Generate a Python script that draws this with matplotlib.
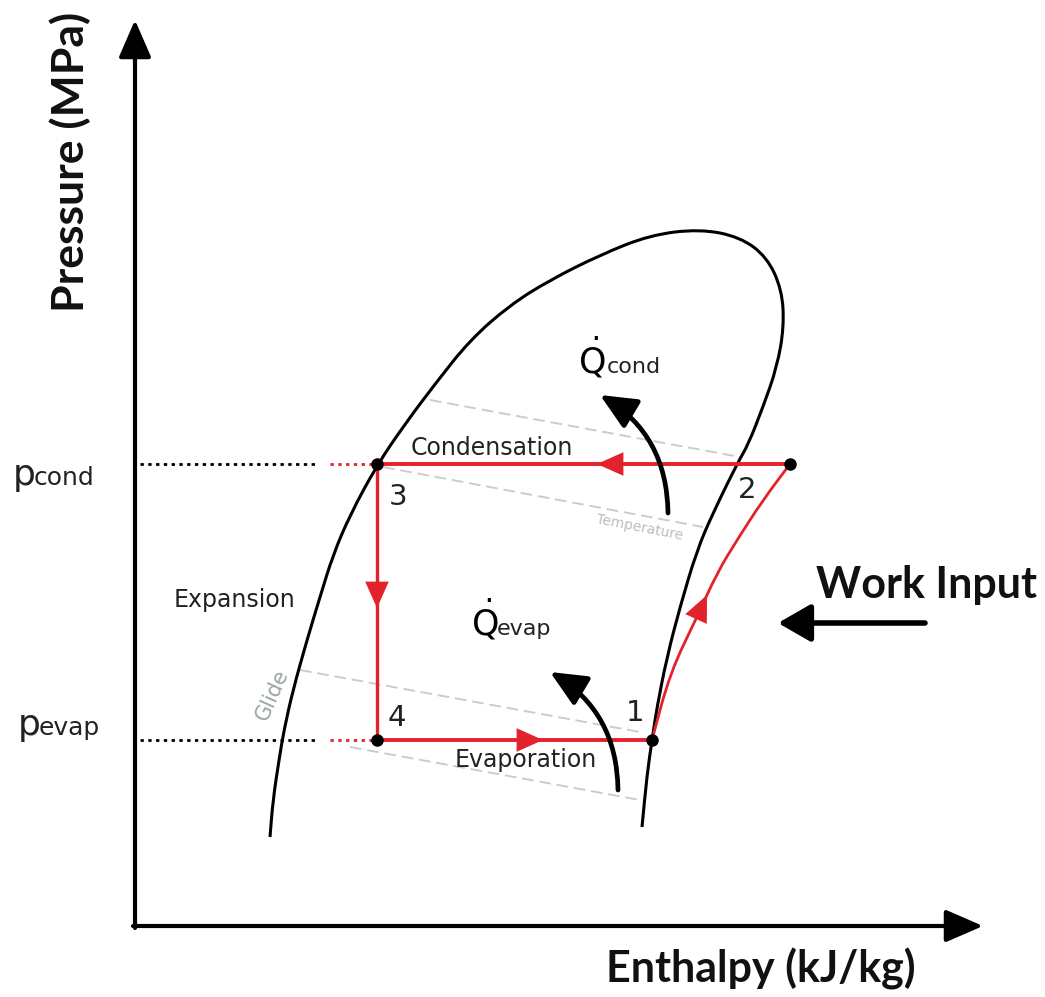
import numpy as np
import matplotlib.pyplot as plt
from matplotlib.patches import FancyArrowPatch, PathPatch
from matplotlib.path import Path

plt.rcParams['mathtext.default'] = 'regular'

# schematic p-h diagram, enthalpy and pressure measured from the axis origin
dome_h = [135, 138, 144, 149, 158, 172, 185, 198, 215, 242, 270, 300, 335, 375, 415,
          465, 515, 565, 605, 632, 647, 649, 642, 628, 613, 603, 578, 562, 545, 532,
          522, 517, 512, 507]
dome_p = [89, 126, 166, 196, 236, 286, 329, 371, 411, 461, 502, 542, 586, 621, 646,
          671, 691, 697, 689, 669, 636, 599, 559, 519, 481, 464, 413, 376, 319, 269,
          219, 186, 151, 99]

# cycle state points
state_names = ['1', '2', '3', '4']
state_h = [517, 655, 242, 242]
state_p = [186, 462, 462, 186]

# compression 1 -> 2
comp_h = [517, 535, 562, 582, 602, 628, 655]
comp_p = [186, 253, 309, 353, 386, 426, 462]

# faint isotherms (temperature glide)
iso_h = [[295, 605], [248, 568], [165, 505], [215, 505]]
iso_p = [[526, 469], [459, 399], [256, 194], [179, 126]]

p_cond = 462
p_evap = 186
guide_split = 180   # where the black guide line turns red

RED = '#e3232c'


def smooth_path(hs, ps):
    # quadratic bezier through midpoints, read points act as control points
    pts = np.column_stack([hs, ps]).astype(float)
    verts = [pts[0], (pts[0] + pts[1]) / 2]
    codes = [Path.MOVETO, Path.LINETO]
    for i in range(1, len(pts) - 1):
        verts += [pts[i], (pts[i] + pts[i + 1]) / 2]
        codes += [Path.CURVE3, Path.CURVE3]
    verts.append(pts[-1])
    codes.append(Path.LINETO)
    return Path(verts, codes)


fig = plt.figure(figsize=(10.45, 9.97), dpi=100)
ax = fig.add_axes([0, 0, 1, 1])
ax.set_xlim(-135, 910)
ax.set_ylim(-71, 926)
ax.axis('off')

# axes with arrows
ax.annotate('', xy=(0, 906), xytext=(0, -2),
            arrowprops=dict(arrowstyle='-|>,head_length=2.3,head_width=1.0',
                            lw=3, color='k', shrinkA=0, shrinkB=0, mutation_scale=10))
ax.annotate('', xy=(848, 0), xytext=(-2, 0),
            arrowprops=dict(arrowstyle='-|>,head_length=2.3,head_width=1.0',
                            lw=3, color='k', shrinkA=0, shrinkB=0, mutation_scale=10))

# isotherms
for hh, pp in zip(iso_h, iso_p):
    ax.plot(hh, pp, color='#cccccc', lw=1.4, ls=(0, (6, 3)), zorder=1)

# dome
ax.add_patch(PathPatch(smooth_path(dome_h, dome_p), fill=False, color='k', lw=2.2, zorder=2))

# guide lines
for pv in [p_cond, p_evap]:
    ax.plot([5, guide_split], [pv, pv], color='k', lw=2, ls=(0, (1.2, 1.6)), zorder=2)
    ax.plot([guide_split + 15, state_h[2]], [pv, pv], color=RED, lw=2,
            ls=(0, (1.2, 1.6)), zorder=2)

# cycle lines
ax.plot([state_h[1], state_h[2]], [state_p[1], state_p[2]], color=RED, lw=2.8, zorder=3)
ax.plot([state_h[2], state_h[3]], [state_p[2], state_p[3]], color=RED, lw=2.4, zorder=3)
ax.plot([state_h[3], state_h[0]], [state_p[3], state_p[0]], color=RED, lw=2.8, zorder=3)
ax.add_patch(PathPatch(smooth_path(comp_h, comp_p), fill=False, color=RED, lw=2.0, zorder=3))


def red_head(tail, tip):
    ax.add_patch(FancyArrowPatch(tail, tip, arrowstyle='-|>,head_length=19,head_width=8.5',
                                 mutation_scale=1, color=RED, lw=0, zorder=4,
                                 shrinkA=0, shrinkB=0))


red_head((485, p_cond), (462, p_cond))
red_head((242, 340), (242, 318))
red_head((385, p_evap), (408, p_evap))
red_head((562, 309), (572, 331))

ax.plot(state_h, state_p, 'o', color='k', ms=8, zorder=5)

# heat / work arrows
ax.annotate('', xy=(465, 531), xytext=(533, 413),
            arrowprops=dict(arrowstyle='-|>,head_length=2.2,head_width=1.0',
                            lw=3.4, color='k', connectionstyle='arc3,rad=0.28',
                            shrinkA=0, shrinkB=0, mutation_scale=10))
ax.annotate('', xy=(415, 254), xytext=(483, 136),
            arrowprops=dict(arrowstyle='-|>,head_length=2.2,head_width=1.0',
                            lw=3.4, color='k', connectionstyle='arc3,rad=0.28',
                            shrinkA=0, shrinkB=0, mutation_scale=10))
ax.annotate('', xy=(643, 303), xytext=(790, 303),
            arrowprops=dict(arrowstyle='-|>,head_length=2.0,head_width=1.15',
                            lw=4, color='k', shrinkA=0, shrinkB=0, mutation_scale=10))

# labels
bold = dict(family='Lato', weight='bold', color='#111111')
ax.text(-65, 764, 'Pressure (MPa)', rotation=90, ha='center', va='center', fontsize=32, **bold)
ax.text(626, -43, 'Enthalpy (kJ/kg)', ha='center', va='center', fontsize=31, **bold)
ax.text(792, 341, 'Work Input', ha='center', va='center', fontsize=31, **bold)

lab = dict(family='DejaVu Sans', color='#222222')
ax.text(-122, 441, 'p', ha='left', va='baseline', fontsize=26, **lab)
ax.text(-101, 441, 'cond', ha='left', va='baseline', fontsize=18, **lab)
ax.text(-117, 191, 'p', ha='left', va='baseline', fontsize=26, **lab)
ax.text(-96, 191, 'evap', ha='left', va='baseline', fontsize=18, **lab)

ax.text(357, 478, 'Condensation', ha='center', va='center', fontsize=17, **lab)
ax.text(100, 326, 'Expansion', ha='center', va='center', fontsize=17, **lab)
ax.text(391, 166, 'Evaporation', ha='center', va='center', fontsize=17, **lab)

num_pos = {'1': (500, 213), '2': (612, 436), '3': (263, 429), '4': (262, 208)}
for n in state_names:
    ax.text(*num_pos[n], n, ha='center', va='center', fontsize=21, **lab)

ax.text(457, 553, r'$\dot{Q}$', ha='center', va='baseline', fontsize=25, color='k')
ax.text(472, 553, 'cond', ha='left', va='baseline', fontsize=16, **lab)
ax.text(350, 291, r'$\dot{Q}$', ha='center', va='baseline', fontsize=25, color='k')
ax.text(362, 291, 'evap', ha='left', va='baseline', fontsize=16, **lab)

ax.text(505, 398, 'Temperature', ha='center', va='center', fontsize=10,
        rotation=-11, color='#bdbdbd')
ax.text(137, 231, 'Glide', ha='center', va='center', fontsize=15,
        rotation=66, color='#9aa6a6')

fig.savefig('out.png', dpi=100)
